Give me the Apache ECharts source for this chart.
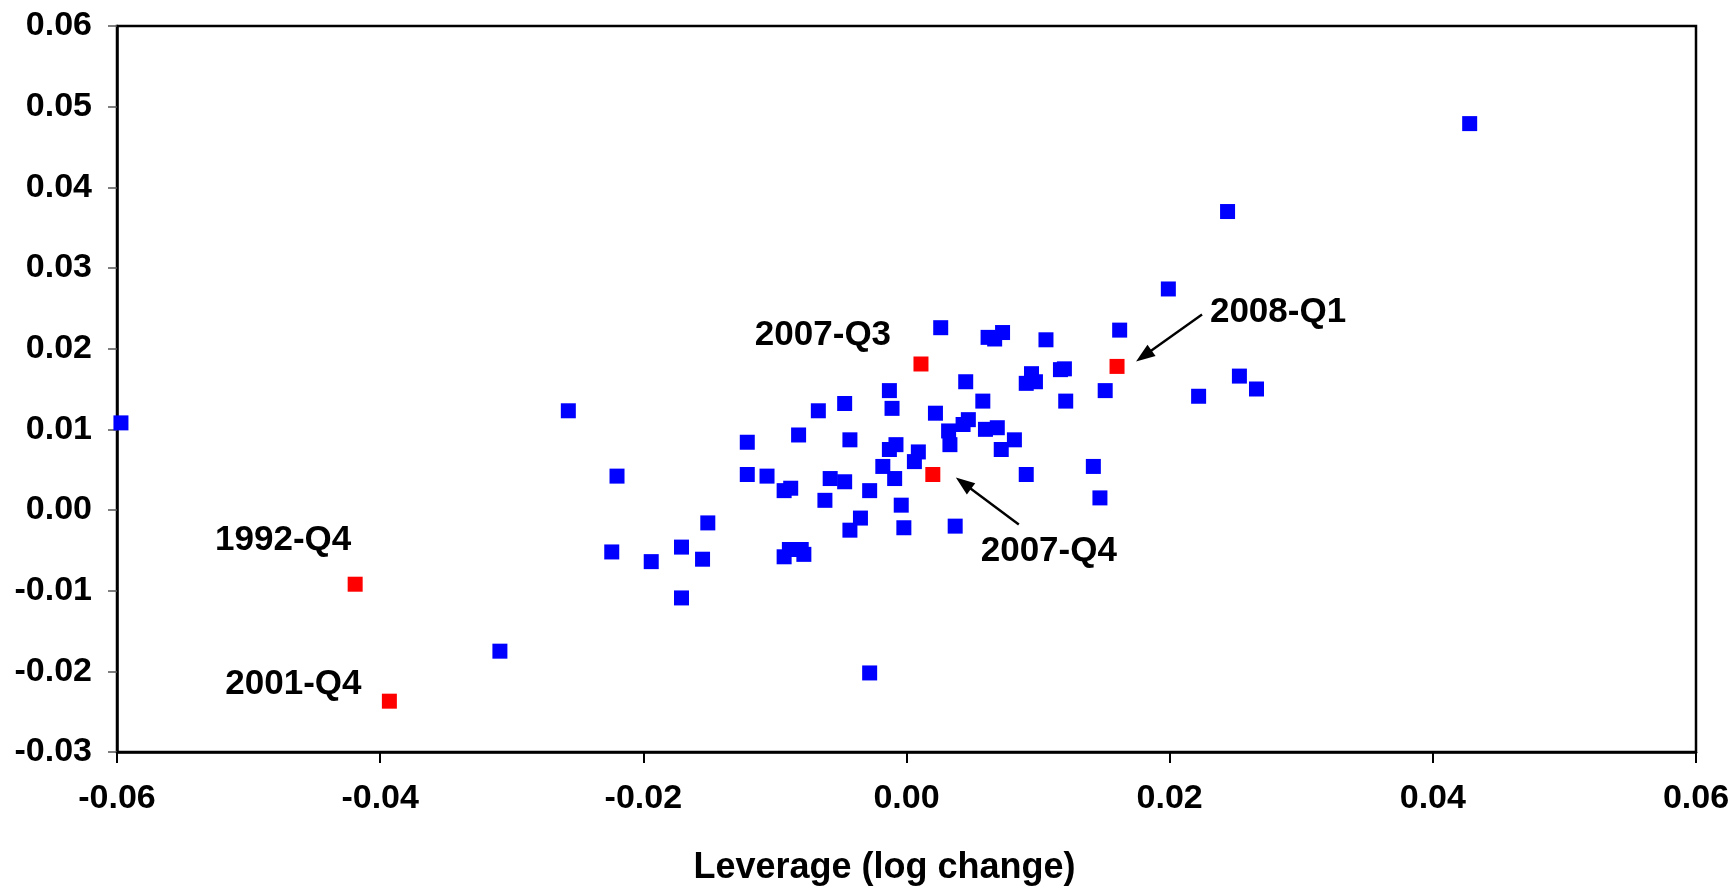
<!DOCTYPE html>
<html>
<head>
<meta charset="utf-8">
<script src="https://cdn.jsdelivr.net/npm/echarts@6/dist/echarts.min.js"></script>
<style>
  html, body { margin: 0; padding: 0; background: #fff; }
  #chart { width: 1733px; height: 891px; }
</style>
</head>
<body>
<div id="chart"></div>
<script>
// Quarterly observations: leverage (log change) on x, second measure on y
const blueX = [
  -0.0597, -0.0257, -0.0220, -0.0224, -0.0194, -0.0171, -0.0151, -0.0155, -0.0171, -0.0309,
  -0.0028, -0.0121, -0.0121, -0.0106, -0.0093, -0.0088, -0.0093, -0.0089, -0.0080, -0.0078,
  -0.0082, -0.0067, -0.0058, -0.0062, -0.0047, -0.0047, -0.0043, -0.0043, -0.0035, -0.0028,
  -0.0018, -0.0013, -0.0011, -0.0013, -0.0008, -0.0009, -0.0004, -0.0002, 0.0009, 0.0006,
  0.0022, 0.0026, 0.0032, 0.0033, 0.0043, 0.0047, 0.0045, 0.0037, 0.0058, 0.0060,
  0.0069, 0.0062, 0.0067, 0.0073, 0.0072, 0.0082, 0.0091, 0.0091, 0.0095, 0.0098,
  0.0106, 0.0117, 0.0120, 0.0121, 0.0142, 0.0147, 0.0151, 0.0162, 0.0199, 0.0222,
  0.0244, 0.0253, 0.0266, 0.0428
];
const blueY = [
  0.0108, 0.0123, 0.0042, -0.0052, -0.0064, -0.0046, -0.0016, -0.0061, -0.0109, -0.0175,
  -0.0202, 0.0084, 0.0044, 0.0042, 0.0024, 0.0027, -0.0058, -0.0049, -0.0049, -0.0055,
  0.0093, 0.0123, 0.0039, 0.0012, 0.0132, 0.0035, 0.0087, -0.0025, -0.0010, 0.0024,
  0.0054, 0.0148, 0.0126, 0.0075, 0.0081, 0.0039, 0.0006, -0.0022, 0.0072, 0.0060,
  0.0120, 0.0226, 0.0098, 0.0081, 0.0106, 0.0112, 0.0159, -0.0020, 0.0135, 0.0100,
  0.0102, 0.0214, 0.0212, 0.0220, 0.0075, 0.0087, 0.0044, 0.0157, 0.0169, 0.0159,
  0.0211, 0.0174, 0.0175, 0.0135, 0.0054, 0.0015, 0.0148, 0.0223, 0.0274, 0.0141,
  0.0370, 0.0166, 0.0150, 0.0479
];

// Highlighted quarters
const redNames = ['1992-Q4', '2001-Q4', '2007-Q3', '2007-Q4', '2008-Q1'];
const redX = [-0.0419, -0.0393, 0.0011, 0.0020, 0.0160];
const redY = [-0.0092, -0.0237, 0.0181, 0.0044, 0.0178];

// Axis ranges and tick steps
const xRange = [-0.06, 0.06];
const xStep = 0.02;
const yRange = [-0.03, 0.06];
const yStep = 0.01;
const xTitle = 'Leverage (log change)';

// Label placement (pixels relative to the marker) and optional arrows
const labelOffsets = {
  '1992-Q4': [-72, -44],
  '2001-Q4': [-96, -17],
  '2007-Q3': [-98, -29],
  '2007-Q4': [116, 77],
  '2008-Q1': [161, -54]
};
const arrows = {
  '2007-Q4': { from: [86, 50], to: [23, 3] },
  '2008-Q1': { from: [85, -52], to: [19, -5] }
};

const FONT = '"Liberation Sans", Arial, Helvetica, sans-serif';

const chart = echarts.init(document.getElementById('chart'), null, { renderer: 'canvas' });

const blueData = blueX.map((x, i) => [x, blueY[i]]);
const redData = redX.map((x, i) => ({
  name: redNames[i],
  value: [x, redY[i]],
  label: {
    show: true,
    position: 'inside',
    offset: labelOffsets[redNames[i]],
    formatter: '{b}',
    color: '#000',
    opacity: 1,
    fontSize: 35,
    fontWeight: 'bold',
    fontFamily: FONT
  }
}));

const fmt = v => (Math.abs(v) < 1e-9 ? 0 : v).toFixed(2);

chart.setOption({
  backgroundColor: '#fff',
  animation: false,
  grid: {
    left: 117, right: 37, top: 26, bottom: 136,
    show: true, borderColor: '#000', borderWidth: 2.5, backgroundColor: 'transparent'
  },
  xAxis: {
    type: 'value',
    min: xRange[0], max: xRange[1], interval: xStep,
    name: xTitle,
    nameLocation: 'middle',
    nameGap: 98,
    nameTextStyle: {
      color: '#000', fontSize: 36, fontWeight: 'bold', fontFamily: FONT,
      padding: [0, 44, 0, 0]
    },
    axisLine: { show: true, onZero: false, lineStyle: { color: '#000', width: 2.5 } },
    axisTick: { show: true, inside: false, length: 11, lineStyle: { color: '#000', width: 2 } },
    axisLabel: {
      margin: 30, color: '#000', fontSize: 34, fontWeight: 'bold', fontFamily: FONT,
      formatter: fmt
    },
    splitLine: { show: false }
  },
  yAxis: {
    type: 'value',
    min: yRange[0], max: yRange[1], interval: yStep,
    axisLine: { show: true, onZero: false, lineStyle: { color: '#000', width: 2.5 } },
    axisTick: { show: true, inside: false, length: 9, lineStyle: { color: '#555', width: 1.5 } },
    axisLabel: {
      margin: 25, color: '#000', fontSize: 34, fontWeight: 'bold', fontFamily: FONT,
      formatter: fmt
    },
    splitLine: { show: false }
  },
  series: [
    {
      type: 'scatter',
      symbol: 'rect',
      symbolSize: 15,
      itemStyle: { color: '#0000FF', borderRadius: 2, opacity: 1 },
      data: blueData,
      z: 2
    },
    {
      type: 'scatter',
      symbol: 'rect',
      symbolSize: 15,
      itemStyle: { color: '#FF0000', borderRadius: 2, opacity: 1 },
      data: redData,
      z: 3
    }
  ]
});

// Arrows pointing from the labels to their highlighted markers
function arrowGraphics() {
  const out = [];
  redNames.forEach((name, i) => {
    const a = arrows[name];
    if (!a) return;
    const p = chart.convertToPixel({ gridIndex: 0 }, [redX[i], redY[i]]);
    const x1 = p[0] + a.from[0], y1 = p[1] + a.from[1];
    const x2 = p[0] + a.to[0], y2 = p[1] + a.to[1];
    const ang = Math.atan2(y2 - y1, x2 - x1);
    const headLen = 19, headHalf = 7;
    const bx = x2 - headLen * Math.cos(ang), by = y2 - headLen * Math.sin(ang);
    const nx = -Math.sin(ang), ny = Math.cos(ang);
    out.push({
      type: 'line',
      shape: { x1: x1, y1: y1, x2: bx + 4 * Math.cos(ang), y2: by + 4 * Math.sin(ang) },
      style: { stroke: '#000', lineWidth: 2.4 },
      z: 10
    });
    out.push({
      type: 'polygon',
      shape: { points: [[x2, y2], [bx + nx * headHalf, by + ny * headHalf], [bx - nx * headHalf, by - ny * headHalf]] },
      style: { fill: '#000' },
      z: 10
    });
  });
  return out;
}
chart.setOption({ graphic: arrowGraphics() });
</script>
</body>
</html>
